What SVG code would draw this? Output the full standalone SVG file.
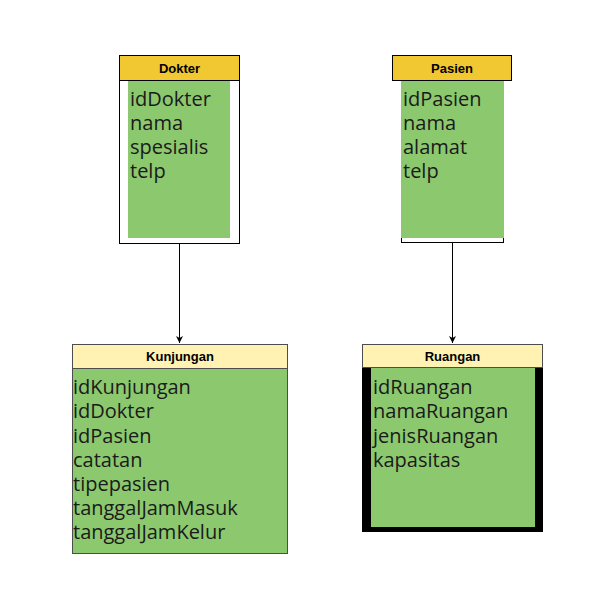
<svg xmlns="http://www.w3.org/2000/svg" width="610" height="612" viewBox="0 0 610 612">
<defs>
<marker id="arr" markerWidth="8" markerHeight="8" refX="7" refY="4" orient="auto" markerUnits="userSpaceOnUse">
<path d="M0,0.5 L7,4 L0,7.5 L2,4 Z" fill="#000"/>
</marker>
</defs>
<style>
.hd{font-family:"Liberation Sans",Arial,sans-serif;font-weight:bold;font-size:13px;fill:#000;text-anchor:middle}
.at{font-family:"Open Sans","Noto Sans",sans-serif;font-size:20px;fill:#1a1a1a}
.g{fill:#8cc86e}
.y1{fill:#f1c832;stroke:#000;stroke-width:1}
.y2{fill:#fff2b3;stroke:#4d4d4d;stroke-width:1}
.ln{stroke:#000;stroke-width:1;fill:none}
</style>
<rect width="610" height="612" fill="#fff"/>
<g id="connectors">
<line class="ln" x1="179.5" y1="243" x2="179.5" y2="343" marker-end="url(#arr)"/>
<line class="ln" x1="452.5" y1="243" x2="452.5" y2="343" marker-end="url(#arr)"/>
</g>
<g id="dokter">
<rect x="119.5" y="55.5" width="120" height="188" fill="#fff" stroke="#000"/>
<rect class="g" x="128" y="80" width="102" height="158"/>
<rect class="y1" x="119.5" y="55.5" width="120" height="25"/>
<text class="hd" x="179.5" y="72.5">Dokter</text>
<text class="at" x="130" y="106">idDokter</text>
<text class="at" x="130" y="130">nama</text>
<text class="at" x="130" y="154">spesialis</text>
<text class="at" x="130" y="178">telp</text>
</g>
<g id="pasien">
<rect x="401.5" y="80.5" width="102" height="162" fill="#fff" stroke="#000"/>
<rect class="g" x="401" y="80" width="103" height="158"/>
<rect class="y1" x="392.5" y="55.5" width="119" height="25"/>
<text class="hd" x="452" y="72.5">Pasien</text>
<text class="at" x="403" y="106">idPasien</text>
<text class="at" x="403" y="130">nama</text>
<text class="at" x="403" y="154">alamat</text>
<text class="at" x="403" y="178">telp</text>
</g>
<g id="kunjungan">
<rect class="g" x="72.5" y="368.5" width="215" height="185" stroke="#4d4d4d"/>
<rect class="y2" x="72.5" y="344.5" width="215" height="24"/>
<text class="hd" x="180" y="361">Kunjungan</text>
<text class="at" x="73" y="394">idKunjungan</text>
<text class="at" x="73" y="418">idDokter</text>
<text class="at" x="73" y="443">idPasien</text>
<text class="at" x="73" y="467">catatan</text>
<text class="at" x="73" y="491">tipepasien</text>
<text class="at" x="73" y="515">tanggalJamMasuk</text>
<text class="at" x="73" y="539">tanggalJamKelur</text>
</g>
<g id="ruangan">
<rect x="362" y="367" width="181" height="165" fill="#000"/>
<rect class="g" x="371" y="368" width="164" height="159"/>
<rect class="y2" x="362.5" y="344.5" width="180" height="23"/>
<text class="hd" x="452.5" y="360.5">Ruangan</text>
<text class="at" x="373" y="394">idRuangan</text>
<text class="at" x="373" y="418">namaRuangan</text>
<text class="at" x="373" y="443">jenisRuangan</text>
<text class="at" x="373" y="467">kapasitas</text>
</g>
</svg>
